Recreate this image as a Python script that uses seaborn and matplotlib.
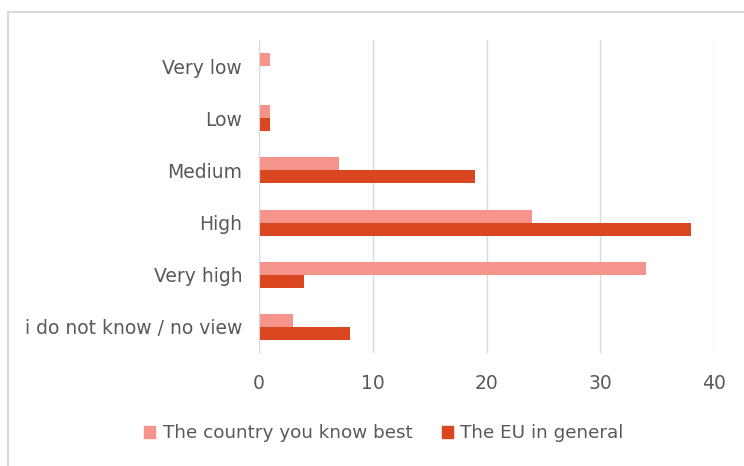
import pandas as pd
import matplotlib.pyplot as plt
import seaborn as sns
from matplotlib.patches import Rectangle

# Data
categories = ['Very low', 'Low', 'Medium', 'High', 'Very high', 'i do not know / no view']
country_best = [1, 1, 7, 24, 34, 3]
eu_general = [0, 1, 19, 38, 4, 8]
series_names = ['The country you know best', 'The EU in general']
colors = ['#F5948A', '#D9461F']

df = pd.DataFrame({
    'category': categories * 2,
    'value': country_best + eu_general,
    'series': [series_names[0]] * len(categories) + [series_names[1]] * len(categories),
})

sns.set_style('white')
plt.rcParams['font.family'] = ['DejaVu Sans']
text_color = '#595959'

fig = plt.figure(figsize=(7.44, 4.66), dpi=100)
ax = fig.add_axes([0.348, 0.2425, 0.612, 0.6715])

sns.barplot(data=df, y='category', x='value', hue='series', order=categories,
            hue_order=series_names, palette=colors, orient='h', width=0.5,
            saturation=1, linewidth=0, ax=ax, legend=False)

ax.set_xlim(0, 40)
ax.set_xticks([0, 10, 20, 30, 40])
ax.grid(axis='x', color='#D9D9D9', linewidth=1)
ax.set_axisbelow(True)
for s in ['top', 'right', 'bottom']:
    ax.spines[s].set_visible(False)
ax.spines['left'].set_color('#D9D9D9')
ax.tick_params(axis='y', length=0, labelsize=13.5, colors=text_color, pad=12)
ax.tick_params(axis='x', length=0, labelsize=13.5, colors=text_color, pad=15)
ax.set_xlabel('')
ax.set_ylabel('')

handles = [plt.Rectangle((0, 0), 1, 1, color=c) for c in colors]
fig.legend(handles, series_names, loc='center', bbox_to_anchor=(0.516, 0.07), ncol=2,
           frameon=False, fontsize=13.2, labelcolor=text_color, handlelength=0.6,
           handleheight=0.6, handletextpad=0.4, columnspacing=1.6)

# outer border
fig.patches.append(Rectangle((8 / 744, -0.05), 1.1, 1 - 12 / 466 + 0.05, transform=fig.transFigure,
                             fill=False, edgecolor='#D9D9D9', linewidth=1.5))

plt.savefig('out.png', dpi=100)
